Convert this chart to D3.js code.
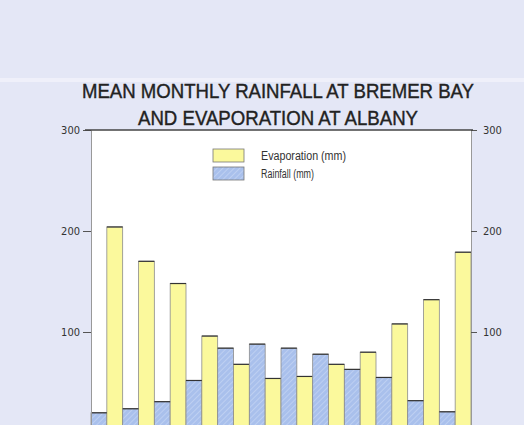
<!DOCTYPE html>
<html>
<head>
<meta charset="utf-8">
<script src="https://cdn.jsdelivr.net/npm/d3@7"></script>
<style>
  body { margin: 0; background: #e4e7f6; }
  svg { display: block; }
  .tick text { font-family: "DejaVu Sans Condensed", "Liberation Sans", sans-serif; font-size: 11px; fill: #333; }
</style>
</head>
<body>
<svg id="chart" width="524" height="425"></svg>
<script>
var months = ["Jan", "Feb", "Mar", "Apr", "May", "Jun", "Jul", "Aug", "Sep", "Oct", "Nov", "Dec"];
var rainfall = [20, 24, 31, 52, 84, 88, 84, 78, 63, 55, 32, 21];
var evaporation = [204, 170, 148, 96, 68, 54, 56, 68, 80, 108, 132, 179];
var yTicks = [100, 200, 300];
var series = ["Rainfall (mm)", "Evaporation (mm)"];

var svg = d3.select("#chart");
var mLeft = 91, mRight = 471, mTop = 130, mBottom = 433;

// background + faint light band near the top
svg.append("rect").attr("width", 524).attr("height", 425).attr("fill", "#e4e7f6");
svg.append("rect").attr("x", 0).attr("y", 78).attr("width", 524).attr("height", 4)
  .attr("fill", "#f3f4fc").attr("opacity", 0.7);

var defs = svg.append("defs");
var hatch = defs.append("pattern").attr("id", "hatch")
  .attr("patternUnits", "userSpaceOnUse").attr("width", 4).attr("height", 4)
  .attr("patternTransform", "rotate(45)");
hatch.append("rect").attr("width", 4).attr("height", 4).attr("fill", "#a9c0ec");
hatch.append("line").attr("x1", 0).attr("y1", 0).attr("x2", 0).attr("y2", 4)
  .attr("stroke", "#c4d4f3").attr("stroke-width", 1.5);

var x = d3.scaleBand().domain(months).range([mLeft, mRight]).padding(0);
var x1 = d3.scaleBand().domain(series).range([0, x.bandwidth()]).padding(0);
var y = d3.scaleLinear().domain([0, 300]).range([mBottom, mTop]);

// plot area
svg.append("rect").attr("x", mLeft).attr("y", mTop)
  .attr("width", mRight - mLeft).attr("height", mBottom - mTop).attr("fill", "#fff");

var rows = months.map(function (m, i) {
  return [{ m: m, s: series[0], v: rainfall[i] }, { m: m, s: series[1], v: evaporation[i] }];
});
var bars = svg.append("g").selectAll("g").data(rows).join("g")
  .attr("transform", function (d) { return "translate(" + x(d[0].m) + ",0)"; });

bars.selectAll("rect").data(function (d) { return d; }).join("rect")
  .attr("x", function (d) { return x1(d.s); })
  .attr("y", function (d) { return y(d.v); })
  .attr("width", x1.bandwidth())
  .attr("height", function (d) { return y(0) - y(d.v); })
  .attr("fill", function (d) { return d.s === series[0] ? "url(#hatch)" : "#fbf99c"; })
  .attr("stroke", "#8c8c8c").attr("stroke-width", 0.8);

bars.selectAll("line").data(function (d) { return d; }).join("line")
  .attr("x1", function (d) { return x1(d.s); })
  .attr("x2", function (d) { return x1(d.s) + x1.bandwidth(); })
  .attr("y1", function (d) { return y(d.v); })
  .attr("y2", function (d) { return y(d.v); })
  .attr("stroke", "#333").attr("stroke-width", 1.2);

// axes
var axL = d3.axisLeft(y).tickValues(yTicks).tickSize(8).tickPadding(3);
var axR = d3.axisRight(y).tickValues(yTicks).tickSize(6).tickPadding(6);
svg.append("g").attr("transform", "translate(" + mLeft + ",0)").call(axL)
  .call(function (g) { g.select(".domain").attr("stroke", "#999"); g.selectAll(".tick line").attr("stroke", "#555"); });
svg.append("g").attr("transform", "translate(" + mRight + ",0)").call(axR)
  .call(function (g) { g.select(".domain").attr("stroke", "#999"); g.selectAll(".tick line").attr("stroke", "#555"); });

// top border
svg.append("line").attr("x1", mLeft - 6).attr("x2", mRight + 2)
  .attr("y1", mTop).attr("y2", mTop).attr("stroke", "#444").attr("stroke-width", 1.3);

// legend
var legend = svg.append("g");
var legItems = [
  { label: series[1], fill: "#fbf99c", y: 149, w: 85 },
  { label: series[0], fill: "url(#hatch)", y: 167, w: 53 }
];
legItems.forEach(function (d) {
  legend.append("rect").attr("x", 213).attr("y", d.y).attr("width", 31).attr("height", 13)
    .attr("fill", d.fill).attr("stroke", "#777").attr("stroke-width", 0.8);
  legend.append("text").attr("x", 261).attr("y", d.y + 11)
    .attr("font-family", "'Liberation Sans', sans-serif")
    .attr("font-size", 12).attr("fill", "#333")
    .attr("textLength", d.w).attr("lengthAdjust", "spacingAndGlyphs")
    .text(d.label);
});

// title
var title = ["MEAN MONTHLY RAINFALL AT BREMER BAY", "AND EVAPORATION AT ALBANY"];
var tw = [392, 280];
title.forEach(function (t, i) {
  svg.append("text").attr("x", 278).attr("y", 98 + i * 27)
    .attr("text-anchor", "middle")
    .attr("font-family", "'Liberation Sans', Arial, sans-serif")
    .attr("font-size", 21).attr("fill", "#222")
    .attr("stroke", "#222").attr("stroke-width", 0.4)
    .attr("textLength", tw[i]).attr("lengthAdjust", "spacingAndGlyphs")
    .text(t);
});
</script>
</body>
</html>
